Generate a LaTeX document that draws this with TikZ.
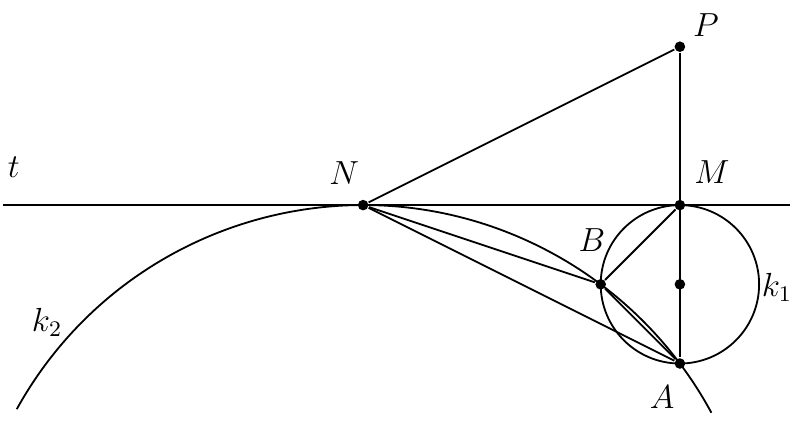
\documentclass[tikz,border=0pt]{standalone}
\begin{document}
\begin{tikzpicture}[x=0.5cm,y=0.5cm,line width=0.65pt,
    dot/.style={circle,fill,inner sep=0pt,minimum size=3.8pt},
    every label node/.style={font=\large}]
  \useasboundingbox (-17.17,-5.5) rectangle (3.26,5.18);
  \draw
    (-8,0) node[dot] (N){}
    (0,0) node[dot] (M){}
    (0,4) node[dot] (P){}
    (0,-2) node[dot] (S){}
    (0,-4) node[dot] (A){}
    (-2,-2) node[dot] (B){};
  \begin{scope}[every node/.style={font=\large}]
  \draw
    (-16.82,0.96) node (tl){$t$}
    (-8.48,0.82) node (Nl){$N$}
    (0.81,0.83) node (Ml){$M$}
    (0.66,4.55) node (Pl){$P$}
    (-2.22,-0.88) node (Bl){$B$}
    (-0.45,-4.85) node (Al){$A$}
    (2.45,-2.07) node (k1l){$k_1$}
    (-15.98,-2.95) node (k2l){$k_2$};
  \end{scope}
  \coordinate (t1) at (-17.1,0);
  \coordinate (t2) at (2.78,0);
  \coordinate (k2) at ([shift={(-8,-10)}]151:10);
  \begin{scope}[-]
    \draw (t1) to (t2);
    \draw (k2) arc[start angle=151,end angle=28.4,radius=10];
    \draw (S) circle[radius=2];
    \draw (N) to (P);
    \draw (P) to (A);
    \draw (N) to (B);
    \draw (N) to (A);
    \draw (M) to (B);
    \draw (B) to (A);
  \end{scope}
\end{tikzpicture}
\end{document}
